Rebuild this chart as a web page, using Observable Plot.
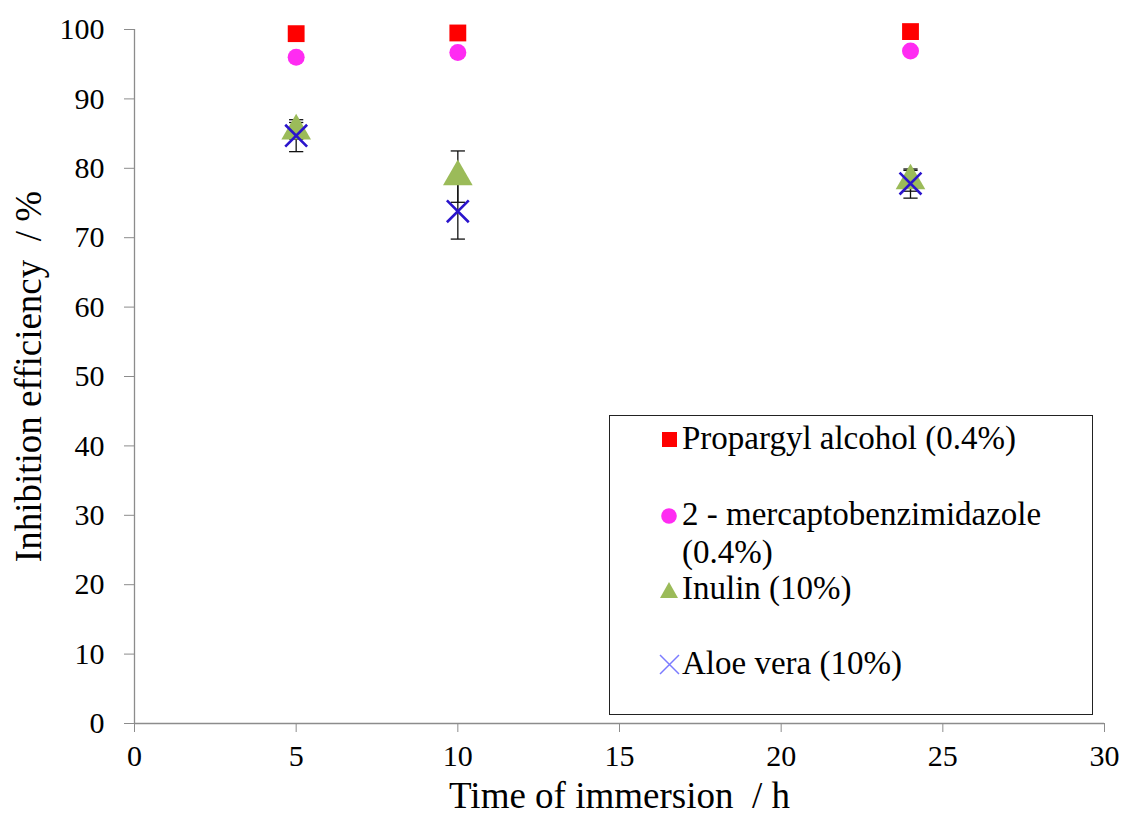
<!DOCTYPE html>
<html>
<head>
<meta charset="utf-8">
<script src="https://cdn.jsdelivr.net/npm/d3@7"></script>
<script src="https://cdn.jsdelivr.net/npm/@observablehq/plot@0.6"></script>
<style>
  html, body { margin: 0; padding: 0; background: #fff; }
  #wrap { position: relative; width: 1122px; height: 816px; font-family: "Liberation Serif", "Times New Roman", "DejaVu Serif", serif; }
  #wrap svg text { font-family: "Liberation Serif", "Times New Roman", "DejaVu Serif", serif; }
  #legend { position: absolute; left: 609px; top: 415px; width: 484px; height: 300px; border: 1px solid #222; background: #fff; box-sizing: border-box; font-size: 33px; color: #000; }
  .li { position: absolute; left: 48px; white-space: nowrap; line-height: 1; }
  .sym { display: inline-block; width: 24px; vertical-align: middle; position: relative; top: -2px; }
</style>
</head>
<body>
<div id="wrap"></div>
<script>
// Data
const times = [5, 10, 24];
const series = ["Propargyl alcohol (0.4%)", "2 - mercaptobenzimidazole (0.4%)", "Inulin (10%)", "Aloe vera (10%)"];
const propargyl = [99.4, 99.5, 99.7];
const mbi = [96.0, 96.7, 96.9];
const inulin = [85.4, 78.8, 78.2];
const inulinErr = [1.2, 3.7, 1.5];
const aloe = [84.7, 73.8, 77.8];
const aloeErr = [2.3, 4.0, 2.1];
const xTicks = [0, 5, 10, 15, 20, 25, 30];
const yTicks = [0, 10, 20, 30, 40, 50, 60, 70, 80, 90, 100];

const colors = {red: "#ff0000", magenta: "#ff2bf2", green: "#9bbb59", blue: "#2a14cc", legendBlue: "#7b7bff"};
const FONT = "Liberation Serif, Times New Roman, DejaVu Serif, serif";

const mk = (vals, errs) => times.map((t, i) => ({t, v: vals[i], e: errs ? errs[i] : 0}));
const dP = mk(propargyl), dM = mk(mbi), dI = mk(inulin, inulinErr), dA = mk(aloe, aloeErr);

const capW = 0.22; // half cap width in x units
const caps = d => d.flatMap(p => [{x1: p.t - capW, x2: p.t + capW, y: p.v - p.e}, {x1: p.t - capW, x2: p.t + capW, y: p.v + p.e}]);

const chart = Plot.plot({
  width: 1122,
  height: 816,
  marginLeft: 134,
  marginRight: 18,
  marginTop: 29,
  marginBottom: 93,
  style: {fontFamily: FONT, background: "#fff", overflow: "visible"},
  x: {domain: [0, 30]},
  y: {domain: [0, 100]},
  marks: [
    Plot.axisX({ticks: xTicks, tickSize: 9, tickPadding: 12, stroke: "#8c8c8c", fontSize: 30, fontFamily: FONT, fill: "#000", label: null}),
    Plot.axisY({ticks: yTicks, tickSize: 10, tickPadding: 20, stroke: "#8c8c8c", fontSize: 30, fontFamily: FONT, fill: "#000", label: null}),
    Plot.ruleY([0], {stroke: "#8c8c8c", strokeWidth: 1.3}),
    Plot.ruleX([0], {stroke: "#8c8c8c", strokeWidth: 1.3}),
    // error bars
    Plot.link(dI, {x1: "t", x2: "t", y1: d => d.v - d.e, y2: d => d.v + d.e, stroke: "#111", strokeWidth: 1.3}),
    Plot.link(dA, {x1: "t", x2: "t", y1: d => d.v - d.e, y2: d => d.v + d.e, stroke: "#111", strokeWidth: 1.3}),
    Plot.link(caps(dI), {x1: "x1", x2: "x2", y1: "y", y2: "y", stroke: "#111", strokeWidth: 1.3}),
    Plot.link(caps(dA), {x1: "x1", x2: "x2", y1: "y", y2: "y", stroke: "#111", strokeWidth: 1.3}),
    // points
    Plot.dot(dP, {x: "t", y: "v", symbol: "square", r: 9.5, fill: colors.red, stroke: "none"}),
    Plot.dot(dM, {x: "t", y: "v", symbol: "circle", r: 8.5, fill: colors.magenta, stroke: "none"}),
    Plot.dot(dI, {x: "t", y: "v", symbol: "triangle", r: 11, fill: colors.green, stroke: "none"}),
    Plot.dot(dA, {x: "t", y: "v", symbol: "times", r: 10, stroke: colors.blue, strokeWidth: 2.6, fill: "none"}),
    // axis titles
    Plot.text(["Time of immersion  / h"], {frameAnchor: "bottom", dy: 84, fontSize: 37, fontFamily: FONT, fill: "#000", lineAnchor: "bottom"}),
    Plot.text(["Inhibition efficiency  / %"], {frameAnchor: "left", dx: -105, rotate: -90, textAnchor: "middle", fontSize: 37, fontFamily: FONT, fill: "#000"})
  ]
});

const wrap = document.getElementById("wrap");
wrap.appendChild(chart);

// Legend (HTML overlay inside plot area)
const sq = `<svg class="sym" width="24" height="22" viewBox="0 0 24 22"><rect x="4" y="4" width="15" height="15" fill="${colors.red}"/></svg>`;
const ci = `<svg class="sym" width="24" height="22" viewBox="0 0 24 22"><circle cx="11" cy="12" r="7.8" fill="${colors.magenta}"/></svg>`;
const tr = `<svg class="sym" width="24" height="22" viewBox="0 0 24 22"><polygon points="2,20 11,4 20,20" fill="${colors.green}"/></svg>`;
const xx = `<svg class="sym" width="24" height="22" viewBox="0 0 24 22"><path d="M2,2 L21,21 M21,2 L2,21" stroke="${colors.legendBlue}" stroke-width="1.5"/></svg>`;
const leg = document.createElement("div");
leg.id = "legend";
leg.innerHTML = `
  <div class="li" style="top:6px">${sq}Propargyl alcohol (0.4%)</div>
  <div class="li" style="top:82px">${ci}2 - mercaptobenzimidazole</div>
  <div class="li" style="top:120px; left:72px">(0.4%)</div>
  <div class="li" style="top:156px">${tr}Inulin (10%)</div>
  <div class="li" style="top:231px">${xx}Aloe vera (10%)</div>`;
wrap.appendChild(leg);
</script>
</body>
</html>
